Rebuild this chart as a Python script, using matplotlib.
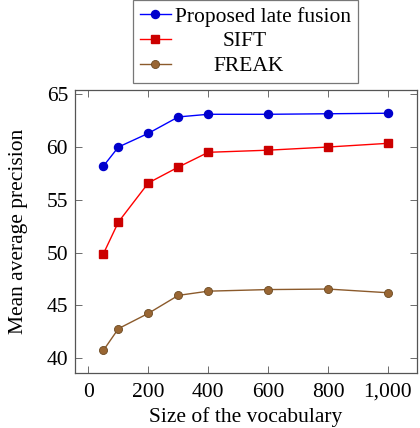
import matplotlib
matplotlib.use("Agg")
import matplotlib.pyplot as plt
from matplotlib.ticker import FuncFormatter, MultipleLocator

vocab = [50, 100, 200, 300, 400, 600, 800, 1000]
late_fusion = [58.2, 60.0, 61.3, 62.85, 63.1, 63.1, 63.15, 63.2]
sift = [49.9, 52.9, 56.6, 58.1, 59.5, 59.7, 60.0, 60.35]
freak = [40.75, 42.8, 44.25, 45.95, 46.35, 46.5, 46.55, 46.2]
labels = ["Proposed late fusion", "SIFT", "FREAK"]

plt.rcParams['font.family'] = ['Liberation Serif', 'DejaVu Serif']

FS = 15.5
dpi = 100
fig = plt.figure(figsize=(4.2, 4.28), dpi=dpi)
ax = fig.add_axes([75/420, 1 - 373/428, (417-75)/420, (373-90)/428])

ax.plot(vocab, late_fusion, color='#0000ff', lw=1.0, marker='o', ms=5.8,
        mfc='#0000cc', mec='#0000cc', label=labels[0])
ax.plot(vocab, sift, color='#ff0000', lw=1.0, marker='s', ms=5.5,
        mfc='#cc0000', mec='#cc0000', label=labels[1])
ax.plot(vocab, freak, color='#8b5a2b', lw=1.0, marker='o', ms=5.8,
        mfc='#996633', mec='#6b4a22', mew=0.6, label=labels[2])

ax.set_xlim(-45, 1097)
ax.set_ylim(38.6, 65.4)
ax.xaxis.set_major_locator(MultipleLocator(200))
ax.yaxis.set_major_locator(MultipleLocator(5))
ax.xaxis.set_major_formatter(FuncFormatter(lambda v, p: f"{int(v):,}"))
ax.tick_params(direction='in', length=5, width=0.6, color='#555555',
               top=True, right=True, labelsize=FS, pad=5)
ax.tick_params(axis='x', pad=7)
for s in ax.spines.values():
    s.set_color('#555555')
    s.set_linewidth(0.9)

ax.set_xlabel("Size of the vocabulary", fontsize=FS, labelpad=4)
ax.set_ylabel("Mean average precision", fontsize=FS, labelpad=13)

leg = fig.legend(loc='upper center', bbox_to_anchor=(245.5/420, 1.0),
                 fontsize=FS, frameon=True, fancybox=False,
                 edgecolor='#555555', handlelength=1.45, handletextpad=0.2,
                 labelspacing=0.22, borderpad=0.3, borderaxespad=0.0)
leg.get_frame().set_linewidth(0.9)

fig.canvas.draw()
r = fig.canvas.get_renderer()
texts = leg.get_texts()
widths = [t.get_window_extent(r).width for t in texts]
W = max(widths)
for t, w in zip(texts, widths):
    t.set_position(((W - w) / 2 * 72 / dpi, 0))

fig.savefig("out.png", dpi=dpi)
